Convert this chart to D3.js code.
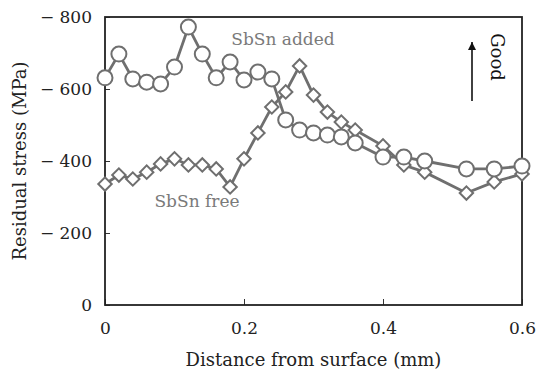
<!DOCTYPE html>
<html>
<head>
<meta charset="utf-8">
<script src="https://cdn.jsdelivr.net/npm/d3@7"></script>
<style>
  body { margin: 0; background: #fff; }
  svg { display: block; font-family: "DejaVu Serif", "Liberation Serif", serif; }
</style>
</head>
<body>
<div id="chart"></div>
<script>
// distance from surface (mm)
const depthAdded = [0, 0.02, 0.04, 0.06, 0.08, 0.10, 0.12, 0.14, 0.16, 0.18, 0.20, 0.22, 0.24, 0.26, 0.28, 0.30, 0.32, 0.34, 0.36, 0.40, 0.43, 0.46, 0.52, 0.56, 0.60];
const stressAdded = [631, 697, 628, 619, 614, 661, 772, 697, 631, 675, 625, 647, 628, 514, 486, 478, 472, 467, 450, 411, 411, 400, 378, 378, 386];
const depthFree = [0, 0.02, 0.04, 0.06, 0.08, 0.10, 0.12, 0.14, 0.16, 0.18, 0.20, 0.22, 0.24, 0.26, 0.28, 0.30, 0.32, 0.34, 0.36, 0.40, 0.43, 0.46, 0.52, 0.56, 0.60];
const stressFree = [336, 361, 350, 369, 392, 406, 389, 389, 378, 328, 406, 478, 550, 592, 664, 583, 536, 508, 486, 442, 389, 369, 311, 342, 364];
const xTicks = [0, 0.2, 0.4, 0.6];
const yTicks = [0, 200, 400, 600, 800];

const width = 536, height = 374;
const margin = {top: 17, right: 14, bottom: 69, left: 105};
const grey = '#6f6f6f';
const fontFam = '"DejaVu Serif", serif';

const svg = d3.select('#chart').append('svg')
  .attr('width', width)
  .attr('height', height);

const x = d3.scaleLinear().domain([0, 0.6]).range([margin.left, width - margin.right]);
const y = d3.scaleLinear().domain([0, 800]).range([height - margin.bottom, margin.top]);

// ticks (inward)
svg.append('g')
  .attr('transform', `translate(0,${y(0)})`)
  .call(d3.axisBottom(x).tickValues(xTicks).tickSizeInner(-6).tickSizeOuter(0)
    .tickFormat(d => d === 0 ? '0' : d3.format('.1f')(d)))
  .call(g => g.select('.domain').remove())
  .call(g => g.selectAll('line').attr('stroke', '#333'))
  .call(g => g.selectAll('text').attr('font-size', 17).attr('fill', '#222')
    .attr('font-family', fontFam).attr('dy', null).attr('y', 29));

svg.append('g')
  .attr('transform', `translate(${x(0)},0)`)
  .call(d3.axisLeft(y).tickValues(yTicks).tickSizeInner(-5).tickSizeOuter(0)
    .tickFormat(d => d === 0 ? '0' : '\u2212 ' + d))
  .call(g => g.select('.domain').remove())
  .call(g => g.selectAll('line').attr('stroke', '#333'))
  .call(g => g.selectAll('text').attr('font-size', 17).attr('fill', '#222')
    .attr('font-family', fontFam).attr('x', -13).attr('dy', '0.35em'));

// frame
svg.append('rect')
  .attr('x', x(0)).attr('y', y(800))
  .attr('width', x(0.6) - x(0)).attr('height', y(0) - y(800))
  .attr('fill', 'none').attr('stroke', '#222').attr('stroke-width', 1.8);

const line = d3.line().x(d => x(d[0])).y(d => y(d[1]));

// SbSn free (diamonds)
const free = d3.zip(depthFree, stressFree);
svg.append('path').datum(free)
  .attr('d', line).attr('fill', 'none').attr('stroke', grey).attr('stroke-width', 2.8);
svg.append('g').selectAll('path')
  .data(free).enter().append('path')
  .attr('d', d3.symbol().type(d3.symbolSquare).size(90))
  .attr('transform', d => `translate(${x(d[0])},${y(d[1])}) rotate(45)`)
  .attr('fill', '#fff').attr('stroke', grey).attr('stroke-width', 2);

// SbSn added (circles)
const added = d3.zip(depthAdded, stressAdded);
svg.append('path').datum(added)
  .attr('d', line).attr('fill', 'none').attr('stroke', grey).attr('stroke-width', 2.8);
svg.append('g').selectAll('circle')
  .data(added).enter().append('circle')
  .attr('cx', d => x(d[0])).attr('cy', d => y(d[1])).attr('r', 7.5)
  .attr('fill', '#fff').attr('stroke', grey).attr('stroke-width', 2);

// series labels
svg.append('text').attr('x', 283).attr('y', 45).attr('text-anchor', 'middle')
  .attr('font-size', 17).attr('fill', '#7a7a7a').text('SbSn added');
svg.append('text').attr('x', 197).attr('y', 207).attr('text-anchor', 'middle')
  .attr('font-size', 17).attr('fill', '#7a7a7a').text('SbSn free');

// "Good" arrow
svg.append('defs').append('marker')
  .attr('id', 'head').attr('viewBox', '0 0 10 10').attr('refX', 10).attr('refY', 5)
  .attr('markerWidth', 8).attr('markerHeight', 8).attr('markerUnits', 'userSpaceOnUse')
  .attr('orient', 'auto')
  .append('path').attr('d', 'M0,0 L10,5 L0,10 z').attr('fill', '#111');
svg.append('line')
  .attr('x1', 472).attr('y1', 101).attr('x2', 472).attr('y2', 42)
  .attr('stroke', '#111').attr('stroke-width', 1.6).attr('marker-end', 'url(#head)');
svg.append('text')
  .attr('transform', 'translate(491,57) rotate(90)')
  .attr('text-anchor', 'middle').attr('font-size', 18).attr('fill', '#111').text('Good');

// axis titles
svg.append('text')
  .attr('x', (x(0) + x(0.6)) / 2).attr('y', 366).attr('text-anchor', 'middle')
  .attr('font-size', 18).attr('fill', '#222').text('Distance from surface (mm)');
svg.append('text')
  .attr('transform', `translate(26,${(y(0) + y(800)) / 2}) rotate(-90)`)
  .attr('text-anchor', 'middle').attr('font-size', 18).attr('fill', '#222').text('Residual stress (MPa)');
</script>
</body>
</html>
